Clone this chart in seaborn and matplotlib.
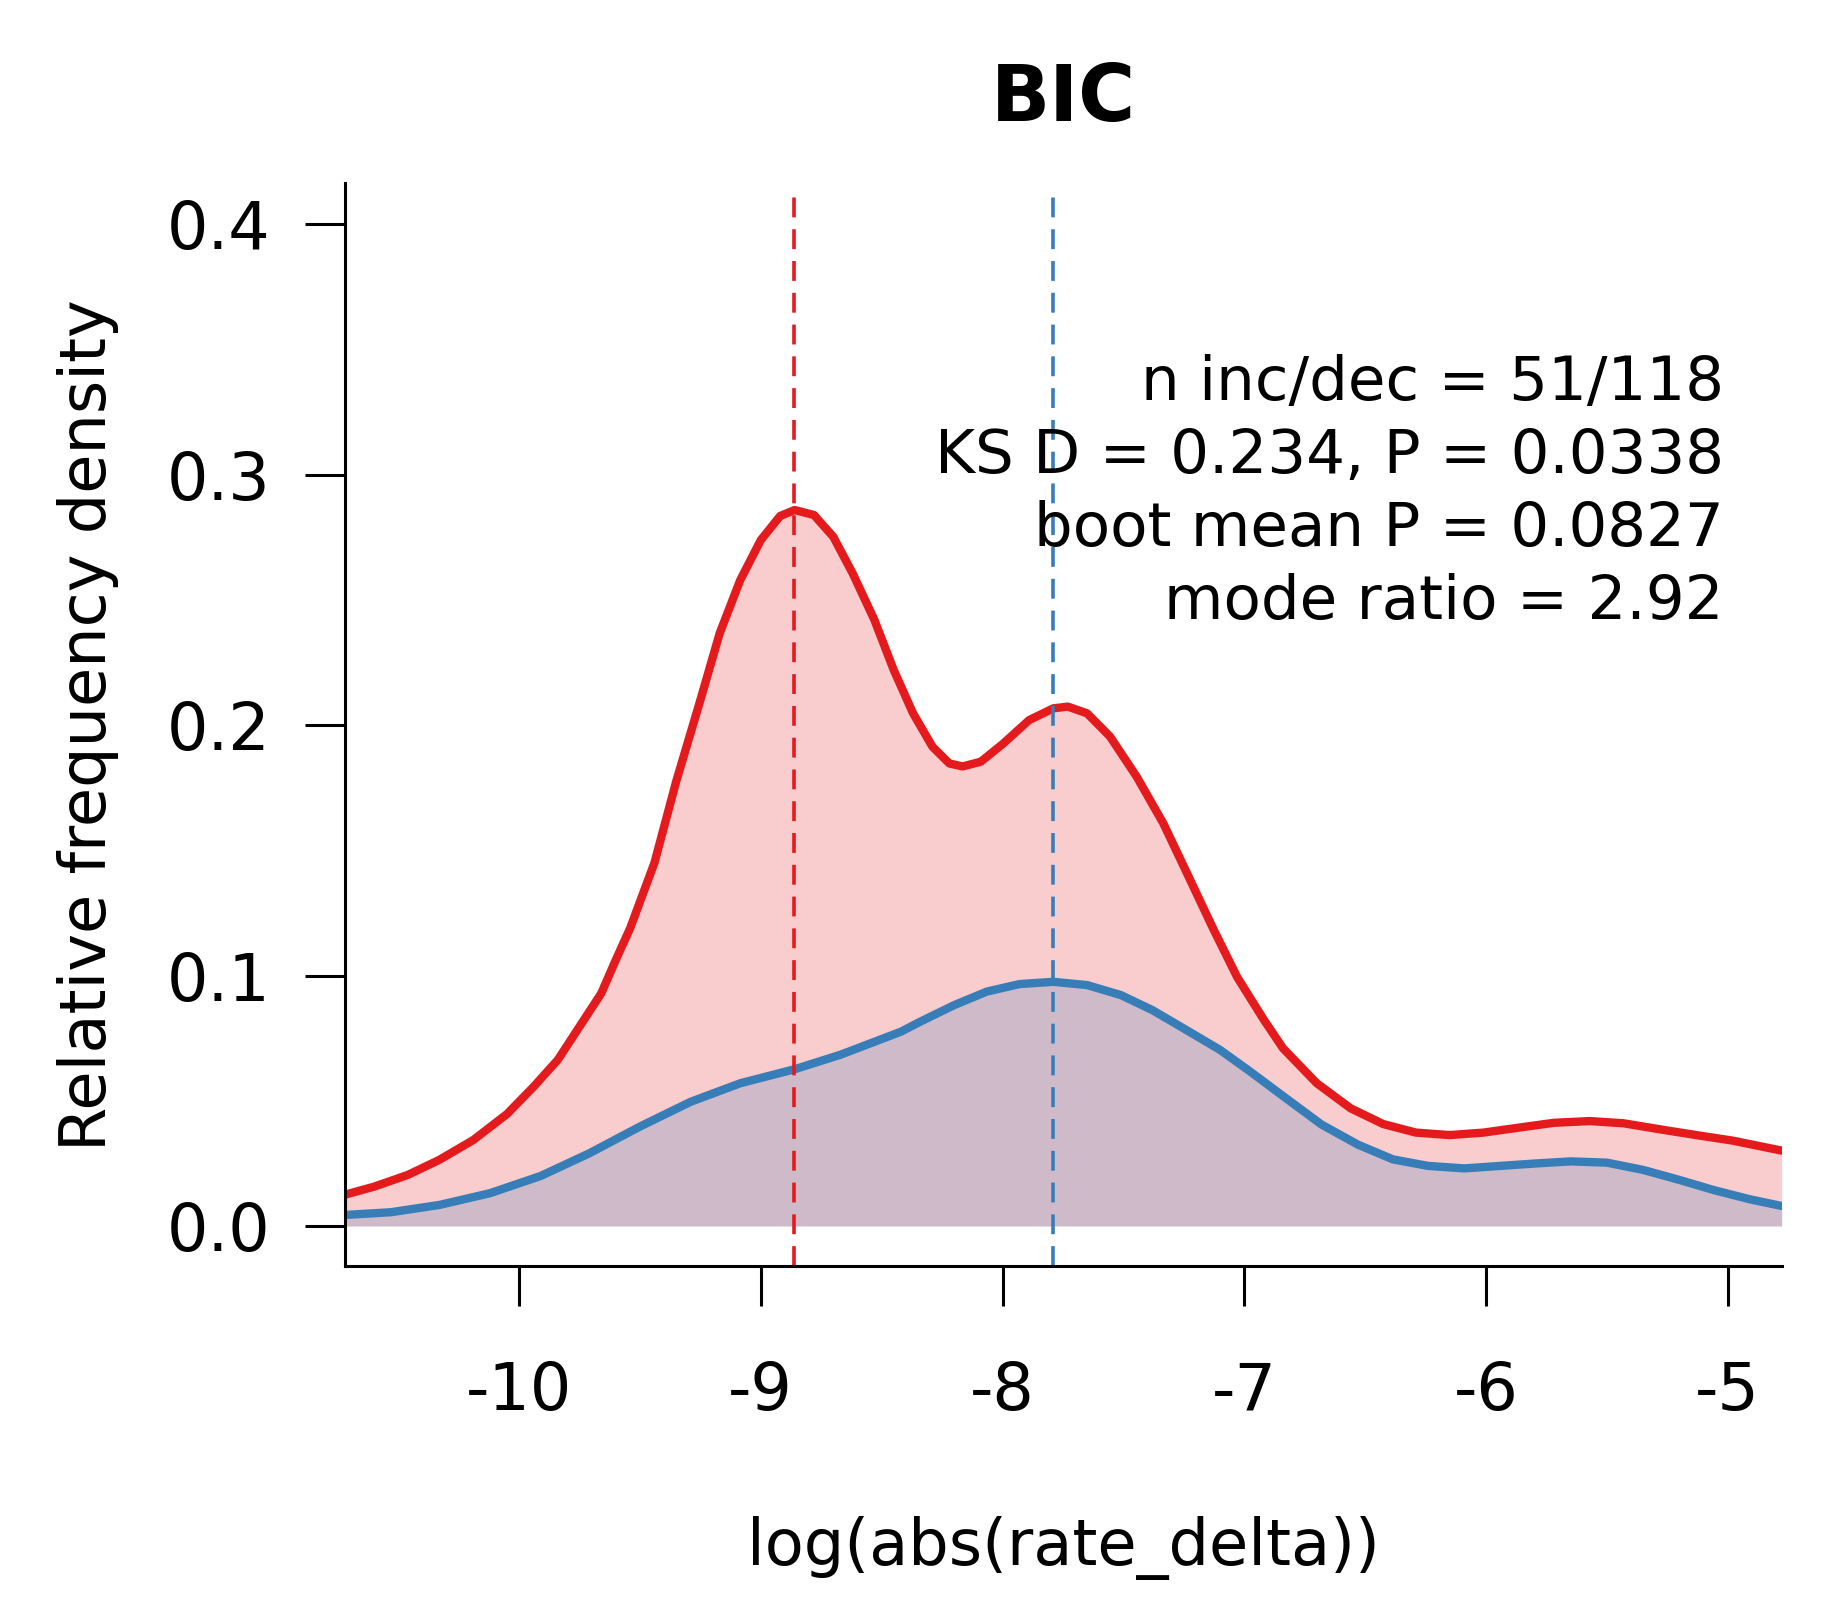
import matplotlib
matplotlib.use("Agg")
import matplotlib.pyplot as plt
import seaborn as sns

# density curves (x = log(abs(rate_delta)))
dec_x = [-10.72, -10.60, -10.46, -10.33, -10.19, -10.05, -9.94, -9.84, -9.75, -9.66,
         -9.60, -9.54, -9.49, -9.44, -9.35, -9.25, -9.17, -9.085, -9.00, -8.92,
         -8.86, -8.78, -8.70, -8.62, -8.53, -8.45, -8.37, -8.29, -8.22, -8.165,
         -8.09, -8.00, -7.89, -7.79, -7.73, -7.65, -7.555, -7.445, -7.335, -7.24,
         -7.13, -7.03, -6.92, -6.84, -6.70, -6.56, -6.425, -6.29, -6.15, -6.01,
         -5.87, -5.72, -5.57, -5.43, -5.28, -5.13, -4.98, -4.777]
dec_y = [0.0125, 0.0157, 0.0204, 0.0264, 0.0343, 0.0447, 0.0556, 0.0663, 0.0796, 0.0929,
         0.1062, 0.1190, 0.1320, 0.1450, 0.1775, 0.2100, 0.2367, 0.2579, 0.2739, 0.2835,
         0.2859, 0.2839, 0.2752, 0.2606, 0.2420, 0.2220, 0.2047, 0.1914, 0.1847, 0.1835,
         0.1854, 0.1924, 0.2020, 0.2067, 0.2074, 0.2047, 0.1954, 0.1794, 0.1608, 0.1415,
         0.1190, 0.0995, 0.0825, 0.0710, 0.0570, 0.0470, 0.0407, 0.0373, 0.0363, 0.0373,
         0.0392, 0.0412, 0.0419, 0.0410, 0.0386, 0.0363, 0.0341, 0.0301]

inc_x = [-10.72, -10.53, -10.33, -10.12, -9.91, -9.71, -9.50, -9.29, -9.085, -8.86,
         -8.67, -8.42, -8.34, -8.20, -8.065, -7.93, -7.79, -7.65, -7.51, -7.38,
         -7.24, -7.10, -6.98, -6.83, -6.68, -6.53, -6.385, -6.24, -6.09, -5.94,
         -5.79, -5.65, -5.50, -5.35, -5.20, -5.06, -4.91, -4.777]
inc_y = [0.0044, 0.0055, 0.0084, 0.0131, 0.0200, 0.0290, 0.0397, 0.0496, 0.0570, 0.0626,
         0.0684, 0.0776, 0.0816, 0.0882, 0.0936, 0.0966, 0.0975, 0.0962, 0.0922, 0.0862,
         0.0783, 0.0703, 0.0620, 0.0512, 0.0405, 0.0325, 0.0266, 0.0240, 0.0230, 0.0240,
         0.0250, 0.0258, 0.0253, 0.0224, 0.0184, 0.0144, 0.0107, 0.0080]

# modes marked with dashed lines
dec_mode = -8.864
inc_mode = -7.791

x_ticks = [-10, -9, -8, -7, -6, -5]
y_ticks = [0.0, 0.1, 0.2, 0.3, 0.4]
y_tick_labels = ["0.0", "0.1", "0.2", "0.3", "0.4"]

stats_lines = ["n inc/dec = 51/118",
               "KS D = 0.234, P = 0.0338",
               "boot mean P = 0.0827",
               "mode ratio = 2.92"]

RED = "#E41A1C"
BLUE = "#377EB8"

sns.set_style("ticks")
plt.rcParams["font.family"] = ["DejaVu Sans"]
plt.rcParams["axes.unicode_minus"] = False
for key in ["text.color", "axes.labelcolor", "xtick.color", "ytick.color", "axes.edgecolor"]:
    plt.rcParams[key] = "black"

fig = plt.figure(figsize=(9.215, 8.06), dpi=200)
ax = fig.add_axes([0.1872, 0.2146, 0.7795, 0.6716])

ax.fill_between(dec_x, dec_y, 0, color=RED, alpha=0.22, linewidth=0)
ax.fill_between(inc_x, inc_y, 0, color=BLUE, alpha=0.22, linewidth=0)
sns.lineplot(x=dec_x, y=dec_y, color=RED, linewidth=3.0, sort=False, ax=ax)
sns.lineplot(x=inc_x, y=inc_y, color=BLUE, linewidth=3.0, sort=False, ax=ax)

ymin, ymax = -0.016, 0.4163
ax.vlines(dec_mode, ymin, 0.4127, colors=RED, linestyles=(0, (5.5, 3.3)), linewidth=1.3)
ax.vlines(inc_mode, ymin, 0.4127, colors=BLUE, linestyles=(0, (5.5, 3.3)), linewidth=1.3)

ax.set_xlim(-10.72, -4.777)
ax.set_ylim(ymin, ymax)
ax.set_xticks(x_ticks)
ax.set_xticklabels([str(t) for t in x_ticks])
ax.set_yticks(y_ticks)
ax.set_yticklabels(y_tick_labels)

ax.tick_params(axis="both", direction="out", length=14.4, width=1.1,
               labelsize=23.5, color="black")
ax.tick_params(axis="x", pad=19.5)
ax.tick_params(axis="y", pad=12.5)

for side in ["top", "right"]:
    ax.spines[side].set_visible(False)
for side in ["left", "bottom"]:
    ax.spines[side].set_linewidth(1.1)

ax.set_title("BIC", fontsize=28, fontweight="bold", pad=22.5)
ax.set_xlabel("log(abs(rate_delta))", fontsize=23, labelpad=33)
ax.set_ylabel("Relative frequency density", fontsize=23, labelpad=17)

for i, line in enumerate(stats_lines):
    ax.text(-5.017, 0.3298 - i * 0.0291, line, ha="right", va="baseline", fontsize=22)

fig.savefig("out.png", dpi=200)
